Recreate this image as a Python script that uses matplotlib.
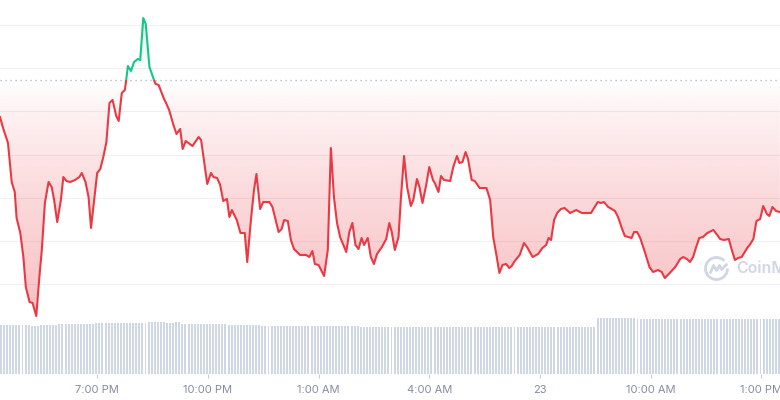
import matplotlib
matplotlib.use("Agg")
import matplotlib.pyplot as plt
import numpy as np
from matplotlib.path import Path
from matplotlib.patches import Rectangle, Arc
from matplotlib.lines import Line2D
from matplotlib.transforms import IdentityTransform

plt.rcParams['font.family'] = ['Inter', 'DejaVu Sans']

# price line, minutes counted from 16:22 on the 22nd
minutes = [0, 5, 13, 19, 24, 27, 33, 38, 42, 48,
           53, 59, 64, 68, 73, 79, 84, 88, 93, 99,
           103, 108, 114, 122, 129, 133, 139, 144, 148, 153,
           158, 163, 168, 173, 178, 183, 189, 193, 198, 203,
           205, 208, 213, 218, 224, 228, 233, 237, 243, 251,
           253, 258, 266, 270, 275, 282, 287, 293, 297, 302,
           313, 323, 327, 337, 343, 347, 353, 358, 363, 369,
           373, 377, 385, 391, 398, 402, 408, 413, 417, 423,
           428, 438, 443, 453, 458, 462, 468, 473, 478, 488,
           498, 503, 508, 512, 518, 523, 527, 533, 538, 543,
           548, 553, 563, 568, 573, 578, 583, 588, 592, 598,
           603, 608, 613, 621, 628, 633, 637, 642, 648, 652,
           657, 662, 668, 672, 678, 682, 687, 693, 698, 704,
           707, 713, 717, 722, 732, 737, 743, 747, 752, 757,
           761, 767, 772, 780, 791, 797, 802, 808, 812, 817,
           823, 828, 832, 837, 845, 852, 857, 866, 875, 882,
           888, 892, 896, 901, 906, 912, 918, 927, 937, 946,
           954, 961, 966, 972, 977, 982, 989, 1000, 1005, 1011,
           1016, 1027, 1031, 1036, 1041, 1049, 1056, 1062, 1070, 1076,
           1081, 1089, 1098, 1106, 1111, 1117, 1122, 1127, 1132, 1137,
           1143, 1150, 1160, 1165, 1171, 1177, 1185, 1190, 1195, 1200,
           1206, 1211, 1216, 1219, 1225, 1230, 1236, 1241, 1247, 1251,
           1256, 1262, 1268]
price = [1.0283, 1.0272, 1.0257, 1.0218, 1.0208, 1.0182, 1.0167, 1.0143, 1.0113, 1.0098,
         1.0097, 1.0084, 1.0123, 1.0150, 1.0197, 1.0218, 1.0213, 1.0200, 1.0178, 1.0200,
         1.0223, 1.0219, 1.0218, 1.0220, 1.0223, 1.0227, 1.0218, 1.0203, 1.0172, 1.0200,
         1.0227, 1.0231, 1.0243, 1.0258, 1.0297, 1.0300, 1.0284, 1.0279, 1.0307, 1.0310,
         1.0319, 1.0334, 1.0329, 1.0338, 1.0341, 1.0340, 1.0382, 1.0376, 1.0333, 1.0319,
         1.0316, 1.0315, 1.0302, 1.0297, 1.0290, 1.0275, 1.0266, 1.0271, 1.0251, 1.0259,
         1.0254, 1.0263, 1.0260, 1.0216, 1.0227, 1.0223, 1.0222, 1.0215, 1.0199, 1.0201,
         1.0183, 1.0190, 1.0180, 1.0167, 1.0167, 1.0138, 1.0180, 1.0210, 1.0226, 1.0191,
         1.0198, 1.0198, 1.0193, 1.0168, 1.0171, 1.0180, 1.0179, 1.0160, 1.0151, 1.0145,
         1.0145, 1.0143, 1.0149, 1.0136, 1.0135, 1.0129, 1.0124, 1.0150, 1.0252, 1.0203,
         1.0177, 1.0163, 1.0148, 1.0168, 1.0177, 1.0155, 1.0151, 1.0162, 1.0155, 1.0162,
         1.0143, 1.0136, 1.0146, 1.0153, 1.0161, 1.0177, 1.0168, 1.0150, 1.0163, 1.0203,
         1.0244, 1.0213, 1.0194, 1.0200, 1.0221, 1.0213, 1.0197, 1.0215, 1.0233, 1.0220,
         1.0217, 1.0208, 1.0224, 1.0220, 1.0219, 1.0233, 1.0244, 1.0237, 1.0238, 1.0248,
         1.0241, 1.0220, 1.0219, 1.0212, 1.0212, 1.0200, 1.0163, 1.0142, 1.0127, 1.0135,
         1.0136, 1.0132, 1.0134, 1.0139, 1.0145, 1.0157, 1.0153, 1.0143, 1.0146, 1.0152,
         1.0155, 1.0162, 1.0160, 1.0180, 1.0187, 1.0191, 1.0192, 1.0187, 1.0190, 1.0187,
         1.0187, 1.0187, 1.0192, 1.0198, 1.0197, 1.0198, 1.0193, 1.0189, 1.0183, 1.0172,
         1.0164, 1.0162, 1.0168, 1.0168, 1.0162, 1.0147, 1.0133, 1.0128, 1.0130, 1.0128,
         1.0122, 1.0127, 1.0133, 1.0141, 1.0143, 1.0141, 1.0138, 1.0143, 1.0153, 1.0162,
         1.0163, 1.0167, 1.0170, 1.0166, 1.0161, 1.0160, 1.0161, 1.0150, 1.0140, 1.0142,
         1.0143, 1.0148, 1.0153, 1.0155, 1.0161, 1.0179, 1.0181, 1.0194, 1.0186, 1.0184,
         1.0193, 1.0189, 1.0188]
open_price = 1.0320

# volume, one bar every 5 minutes from 16:22
volume = [4.9, 4.9, 4.9, 4.9, 4.9, 4.9, 4.9, 4.9, 4.9, 4.9,
          4.8, 4.8, 4.8, 4.95, 4.95, 4.95, 4.95, 4.95, 4.95, 5.0,
          5.0, 5.0, 5.0, 5.0, 5.0, 5.0, 5.0, 5.0, 5.0, 5.0,
          5.0, 5.1, 5.1, 5.1, 5.1, 5.1, 5.1, 5.1, 5.1, 5.1,
          5.1, 5.1, 5.1, 5.1, 5.1, 5.1, 5.1, 5.1, 5.2, 5.2,
          5.2, 5.2, 5.2, 5.2, 5.1, 5.1, 5.1, 5.2, 5.2, 5.0,
          5.0, 5.0, 5.0, 5.0, 5.0, 5.0, 5.0, 5.0, 5.0, 5.0,
          5.0, 5.0, 5.0, 5.0, 4.9, 4.9, 4.9, 4.9, 4.9, 4.9,
          4.9, 4.9, 4.9, 4.9, 4.9, 4.85, 4.85, 4.85, 4.85, 4.85,
          4.85, 4.85, 4.85, 4.85, 4.85, 4.85, 4.85, 4.85, 4.85, 4.85,
          4.85, 4.85, 4.85, 4.85, 4.8, 4.8, 4.8, 4.8, 4.8, 4.8,
          4.8, 4.8, 4.8, 4.8, 4.8, 4.8, 4.8, 4.75, 4.75, 4.75,
          4.75, 4.75, 4.75, 4.75, 4.75, 4.75, 4.75, 4.75, 4.75, 4.75,
          4.75, 4.75, 4.75, 4.75, 4.75, 4.75, 4.75, 4.75, 4.75, 4.75,
          4.75, 4.75, 4.75, 4.7, 4.7, 4.7, 4.7, 4.7, 4.7, 4.7,
          4.7, 4.7, 4.7, 4.7, 4.7, 4.7, 4.7, 4.7, 4.7, 4.7,
          4.7, 4.7, 4.7, 4.7, 4.7, 4.7, 4.7, 4.7, 4.7, 4.7,
          4.7, 4.7, 4.7, 4.7, 4.7, 4.7, 4.7, 4.7, 4.7, 4.7,
          4.7, 4.7, 4.7, 4.7, 4.7, 4.7, 4.7, 4.7, 4.7, 4.7,
          4.7, 4.7, 4.7, 4.7, 5.65, 5.65, 5.65, 5.65, 5.65, 5.65,
          5.65, 5.65, 5.65, 5.65, 5.65, 5.65, 5.65, 5.55, 5.55, 5.55,
          5.55, 5.55, 5.55, 5.55, 5.55, 5.55, 5.55, 5.55, 5.55, 5.55,
          5.55, 5.55, 5.55, 5.55, 5.55, 5.55, 5.55, 5.55, 5.55, 5.55,
          5.55, 5.55, 5.55, 5.55, 5.55, 5.55, 5.55, 5.55, 5.55, 5.55,
          5.55, 5.55, 5.55, 5.55, 5.55, 5.55, 5.55, 5.55, 5.55, 5.55,
          5.55, 5.55, 5.55, 5.55]

tick_minutes = [158, 338, 518, 698, 878, 1058, 1238]
tick_labels = ['7:00 PM', '10:00 PM', '1:00 AM', '4:00 AM', '23', '10:00 AM', '1:00 PM']
grid_levels = [1.0375, 1.0332, 1.0289, 1.0245, 1.0202, 1.0159, 1.0116]

RED = '#ea3943'
GREEN = '#16c784'
XMAX = 1268.3
YMIN, YMAX = 1.0026, 1.04

fig = plt.figure(figsize=(7.8, 4.0), dpi=100)
rect = [0, 26 / 400, 1, 374 / 400]

# volume bars underneath
axv = fig.add_axes(rect)
axv.bar(np.arange(len(volume)) * 5, volume, width=3.2, align='edge',
        color='#cfd6e4', linewidth=0)
axv.set_xlim(0, XMAX)
axv.set_ylim(0, 37.4)
axv.axis('off')

ax = fig.add_axes(rect)
ax.patch.set_alpha(0)
for s in ax.spines.values():
    s.set_visible(False)

ax.set_yticks(grid_levels)
ax.tick_params(axis='y', left=False, labelleft=False)
ax.grid(axis='y', color='#eef0f3', lw=0.8)
ax.set_axisbelow(True)

ax.set_xticks(tick_minutes, tick_labels)
ax.tick_params(axis='x', length=3, width=0.8, color='#c5ccd9',
               labelcolor='#858ca2', labelsize=8, pad=5)

# gradient areas between line and open price
coll = ax.fill_between(minutes, price, open_price, facecolor='none', edgecolor='none')
area = Path.make_compound_path(*coll.get_paths())

n = 300
ys = np.linspace(open_price, YMIN, n)
pix = (YMAX - ys) * 10000
red_img = np.zeros((n, 1, 4))
red_img[..., :3] = matplotlib.colors.to_rgb(RED)
red_img[:, 0, 3] = np.interp(pix, [80, 111, 154, 195, 300, 374],
                             [0, 0.07, 0.13, 0.19, 0.30, 0.34])
im = ax.imshow(red_img, extent=[0, XMAX, YMIN, open_price], aspect='auto',
               origin='upper', zorder=1, interpolation='bilinear')
im.set_clip_path(area, ax.transData)

ys = np.linspace(YMAX, open_price, n)
green_img = np.zeros((n, 1, 4))
green_img[..., :3] = matplotlib.colors.to_rgb(GREEN)
green_img[:, 0, 3] = np.linspace(0.16, 0, n)
im2 = ax.imshow(green_img, extent=[0, XMAX, open_price, YMAX], aspect='auto',
                origin='upper', zorder=1, interpolation='bilinear')
im2.set_clip_path(area, ax.transData)

# line, red below the open price and green above it
l1, = ax.plot(minutes, price, color=RED, lw=1.5, zorder=3, solid_joinstyle='round')
l1.set_clip_path(Rectangle((0, YMIN), XMAX, open_price - YMIN, transform=ax.transData))
l2, = ax.plot(minutes, price, color=GREEN, lw=1.5, zorder=3, solid_joinstyle='round')
l2.set_clip_path(Rectangle((0, open_price), XMAX, YMAX - open_price, transform=ax.transData))

ax.axhline(open_price, color='#a3a9b8', lw=1.0, dashes=(0.8, 2.8), zorder=2)

ax.set_xlim(0, XMAX)
ax.set_ylim(YMIN, YMAX)

# watermark
wm = '#cfd6e4'
fig.text(736 / 780, 1 - 268 / 400, 'CoinMarketCap', fontsize=11.5, color=wm,
         fontweight='semibold', va='center', ha='left')
cx, cy = 716.5, 400 - 268.5
fig.add_artist(Arc((cx, cy), 22, 22, theta1=45, theta2=360, lw=2.0, color=wm,
                   transform=IdentityTransform()))
fig.add_artist(Line2D([cx - 6, cx - 3, cx, cx + 3, cx + 5, cx + 10],
                      [cy - 4, cy + 3, cy - 2, cy + 3, cy - 1, cy + 4],
                      lw=2.0, color=wm, transform=IdentityTransform(),
                      solid_joinstyle='round', solid_capstyle='round'))

fig.savefig('out.png', dpi=100)
